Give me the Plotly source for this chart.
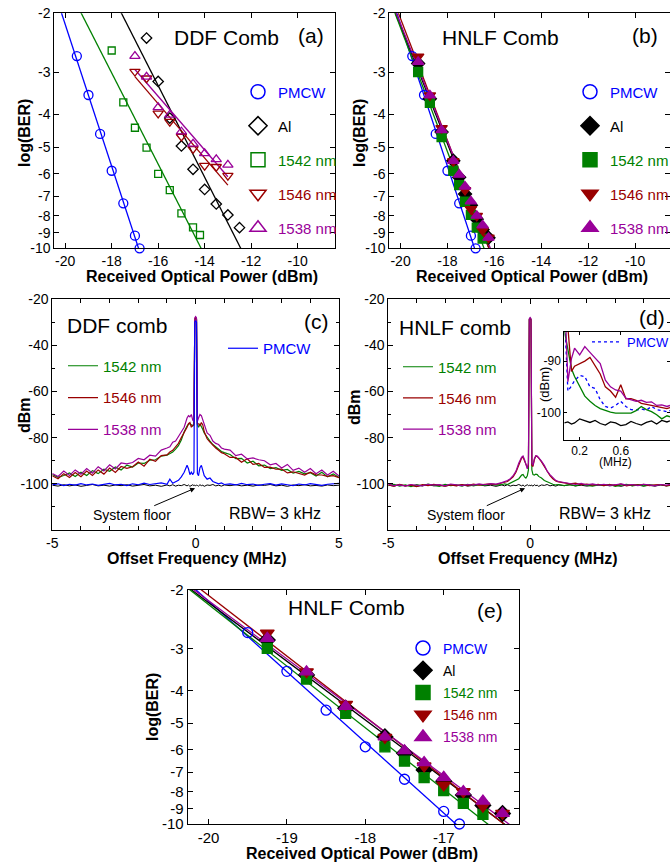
import numpy as np
import plotly.graph_objects as go

W, H = 670, 865
FONT = "Arial, 'Liberation Sans', sans-serif"

BLUE, BLACK, GREEN, RED, PURPLE = "#0000FF", "#000000", "#008000", "#990000", "#990099"

# ---------------- (a) DDF comb : log(BER) vs received power ----------------
a_pmcw_x = [-19.5, -19.0, -18.5, -18.0, -17.5, -17.0, -16.8]
a_pmcw_y = [-2.68, -3.50, -4.57, -5.88, -7.35, -9.17, -10.0]
a_al_x = [-16.5, -16.0, -15.5, -15.0, -14.5, -14.0, -13.5, -13.0, -12.5]
a_al_y = [-2.37, -3.19, -4.10, -4.96, -5.82, -6.68, -7.38, -7.96, -8.68]
a_1542_x = [-18.0, -17.5, -17.0, -16.5, -16.0, -15.5, -15.0, -14.5, -14.2]
a_1542_y = [-2.58, -3.68, -4.38, -5.02, -6.01, -6.71, -7.87, -8.66, -9.13]
a_1546_x = [-17.0, -16.5, -16.0, -15.5, -15.0, -14.5, -14.0, -13.5, -13.0]
a_1546_y = [-2.98, -3.12, -3.97, -4.20, -4.65, -5.06, -5.68, -5.72, -6.08]
a_1538_x = [-17.0, -16.5, -16.0, -15.5, -15.0, -14.5, -14.0, -13.5, -13.0]
a_1538_y = [-2.68, -3.09, -3.81, -4.01, -4.50, -4.89, -5.22, -5.44, -5.65]

# ---------------- (b)/(e) HNLF comb ----------------
h_pmcw_x = [-19.5, -19.0, -18.5, -18.0, -17.5, -17.0, -16.8]
h_pmcw_y = [-2.68, -3.50, -4.57, -5.88, -7.35, -9.17, -10.0]
h_al_x = [-19.25, -18.75, -18.25, -17.75, -17.5, -17.25, -17.0, -16.75, -16.5, -16.25]
h_al_y = [-2.82, -3.59, -4.51, -5.49, -6.15, -6.90, -7.45, -8.19, -8.80, -9.30]
h_1542_x = [-19.25, -18.75, -18.25, -17.75, -17.5, -17.25, -17.0, -16.75, -16.5]
h_1542_y = [-2.99, -3.69, -4.67, -5.88, -6.49, -7.27, -7.95, -8.68, -9.36]
h_1546_x = [-19.25, -18.75, -18.25, -17.75, -17.25, -17.0, -16.75, -16.5, -16.25]
h_1546_y = [-2.69, -3.51, -4.39, -5.51, -6.71, -7.65, -8.01, -8.84, -9.30]
h_1538_x = [-19.25, -18.75, -18.25, -17.75, -17.5, -17.25, -17.0, -16.75, -16.5, -16.25]
h_1538_y = [-2.79, -3.51, -4.45, -5.49, -6.04, -6.55, -7.25, -8.00, -8.54, -9.30]

ber_ticks = [-2, -3, -4, -5, -6, -7, -8, -9, -10]
ab_xticks = [-20, -18, -16, -14, -12, -10, -8]
e_xticks = [-20, -19, -18, -17, -16]

# ---------------- (c)/(d) RF spectra ----------------
spec_x = [-5.0, -4.8, -4.6, -4.4, -4.2, -4.0, -3.8, -3.6, -3.4, -3.2, -3.0, -2.8, -2.6, -2.4, -2.2,
          -2.0, -1.8, -1.6, -1.4, -1.2,
          -1.0, -0.9, -0.8, -0.7, -0.6, -0.5, -0.4, -0.3, -0.25, -0.2, -0.15, -0.1, -0.06, -0.03,
          0.0, 0.03, 0.06, 0.1, 0.15, 0.2, 0.25, 0.3, 0.4, 0.5, 0.6, 0.7, 0.8, 0.9, 1.0,
          1.2, 1.4, 1.6, 1.8, 2.0, 2.2, 2.4, 2.6, 2.8, 3.0, 3.2, 3.4, 3.6, 3.8, 4.0, 4.2, 4.4, 4.6, 4.8, 5.0]

c_1542 = [-96.0, -97.2, -96.4, -95.3, -96.8, -95.0, -96.4, -94.3, -95.6, -93.7, -94.6, -92.7, -94.0, -91.9, -92.8,
          -91.0, -91.2, -89.8, -89.6, -88.0,
          -87.6, -87.0, -86.2, -85.0, -83.5, -81.0, -77.5, -75.0, -74.2, -74.0, -74.5, -75.0, -74.5, -29.0,
          -28.4, -29.0, -74.5, -75.5, -74.0, -75.0, -76.5, -78.0, -80.0, -81.5, -83.0, -84.0, -85.0, -86.0, -86.5,
          -87.3, -89.1, -89.0, -91.0, -90.2, -92.2, -91.9, -93.4, -93.0, -94.2, -93.8, -95.4, -94.6, -95.7, -95.2,
          -96.6, -95.0, -97.0, -95.7, -97.3]
c_1546 = [-96.5, -97.8, -95.6, -97.3, -95.1, -96.9, -94.5, -96.4, -94.0, -95.8, -93.2, -95.1, -92.5, -93.3, -92.6,
          -90.6, -92.4, -89.4, -90.3, -87.8,
          -87.5, -86.2, -85.5, -84.0, -82.5, -80.0, -78.0, -75.5, -74.0, -73.5, -75.5, -74.5, -74.0, -28.6,
          -28.0, -28.6, -74.0, -74.0, -75.0, -73.5, -74.5, -77.5, -80.5, -82.0, -83.5, -84.5, -85.5, -86.5, -87.0,
          -88.6, -88.6, -90.7, -89.2, -91.6, -91.2, -92.9, -92.8, -93.7, -93.6, -95.3, -94.8, -95.5, -96.2, -95.0,
          -96.1, -96.2, -96.8, -96.5, -97.3]
c_1538 = [-95.5, -96.8, -94.5, -96.4, -94.0, -95.8, -93.4, -95.4, -92.6, -94.4, -91.8, -93.6, -91.0, -91.4, -90.8,
          -89.0, -89.6, -87.6, -88.0, -85.4,
          -84.5, -84.0, -82.0, -81.5, -79.5, -77.5, -75.5, -71.5, -70.5, -71.0, -70.0, -72.5, -73.0, -28.2,
          -27.6, -28.2, -73.0, -71.5, -70.0, -70.5, -72.5, -75.0, -78.0, -79.0, -81.5, -82.5, -83.0, -84.5, -85.0,
          -85.4, -87.8, -87.2, -89.2, -88.8, -89.6, -90.0, -91.8, -91.2, -93.2, -91.6, -94.2, -93.2, -95.0, -93.4,
          -95.6, -94.0, -96.2, -94.6, -96.6]
c_pmcw = [-100.4, -100.0, -100.8, -100.2, -100.6, -99.9, -100.5, -100.1, -100.7, -100.3, -99.8, -100.5, -100.2, -100.8, -100.0,
          -100.4, -99.7, -100.3, -99.9, -99.6,
          -100.2, -98.0, -99.8, -99.2, -98.5, -97.0, -95.0, -92.0, -93.5, -96.0, -95.0, -96.0, -95.0, -30.0,
          -29.5, -30.0, -95.5, -96.5, -93.0, -92.0, -94.0, -96.5, -98.0, -97.5, -99.0, -99.5, -100.0, -99.6, -100.3,
          -100.0, -100.5, -99.8, -100.4, -100.1, -100.7, -100.2, -99.9, -100.6, -100.0, -100.4, -100.8, -100.1, -100.5, -99.9,
          -100.3, -100.7, -100.2, -100.0, -99.8]
floor_dbm = [-100.6, -101.0, -100.4, -100.9, -100.5, -101.1, -100.7, -100.3, -100.9, -100.6, -101.0, -100.5, -100.8, -100.4, -101.0,
             -100.7, -100.3, -100.9, -100.6, -101.1,
             -100.5, -100.9, -100.4, -101.0, -100.6, -100.8, -100.3, -100.9, -100.5, -101.1, -100.6, -100.4, -100.8, -100.6,
             -100.9, -100.5, -100.7, -101.0, -100.4, -100.8, -100.6, -101.1, -100.5, -100.7, -100.3, -100.9, -100.6, -101.0, -100.5,
             -100.8, -100.4, -100.9, -100.6, -101.0, -100.5, -100.7, -100.3, -100.9, -100.6, -101.1, -100.5, -100.8, -100.4, -100.9,
             -100.7, -101.0, -100.5, -100.8, -100.6]

d_1542 = [-100.8, -100.2, -101.0, -100.5, -101.2, -100.4, -100.9, -100.1, -100.7, -101.1, -100.3, -100.8, -100.5, -101.0, -100.2,
          -100.9, -100.4, -100.7, -100.2, -100.6,
          -100.4, -100.0, -100.3, -99.6, -99.2, -98.5, -97.8, -96.2, -96.0, -97.0, -97.5, -96.5, -94.0, -29.0,
          -28.5, -29.0, -94.0, -96.0, -96.2, -95.8, -96.0, -96.8, -97.5, -98.6, -99.2, -99.8, -100.2, -100.5, -100.3,
          -100.8, -100.4, -100.9, -100.2, -100.7, -101.0, -100.5, -100.8, -100.3, -101.1, -100.6, -100.2, -100.9, -100.5, -101.0,
          -100.4, -100.8, -100.3, -100.9, -100.6]
d_1546 = [-100.5, -101.0, -100.3, -100.9, -100.6, -101.2, -100.4, -100.8, -100.2, -100.7, -101.0, -100.5, -100.9, -100.3, -100.8,
          -100.1, -100.6, -100.2, -100.0, -100.3,
          -99.8, -99.4, -99.0, -98.0, -97.0, -95.0, -91.5, -88.8, -88.5, -90.0, -92.0, -93.0, -92.0, -28.8,
          -28.3, -28.8, -92.0, -92.5, -89.5, -88.0, -88.2, -88.8, -90.5, -92.5, -95.0, -96.5, -97.8, -98.8, -99.2,
          -99.6, -100.0, -99.7, -100.4, -100.1, -100.6, -100.2, -100.8, -100.3, -100.7, -100.1, -100.9, -100.4, -100.6, -100.2,
          -100.8, -100.5, -100.3, -100.9, -100.4]
d_1538 = [-100.2, -100.8, -100.5, -101.0, -100.3, -100.7, -100.9, -100.2, -100.6, -100.4, -100.9, -100.1, -100.5, -100.8, -100.3,
          -100.6, -100.0, -100.4, -99.9, -100.1,
          -99.5, -99.2, -98.6, -97.8, -96.5, -94.5, -91.0, -88.5, -88.0, -89.5, -91.5, -93.5, -91.0, -28.5,
          -28.0, -28.5, -91.0, -92.0, -89.0, -87.8, -88.0, -88.6, -90.2, -92.0, -94.5, -96.0, -97.5, -98.5, -99.0,
          -99.4, -99.9, -100.3, -99.8, -100.5, -100.0, -100.6, -100.2, -100.7, -100.4, -100.0, -100.6, -100.3, -100.8, -100.2,
          -100.5, -100.9, -100.3, -100.6, -100.1]

spec_xticks = [-5, 0, 5]
spec_yticks = [-100, -80, -60, -40, -20]

# ---------------- (d) inset: close-in spectrum ----------------
ins_x = [0.05, 0.085, 0.12, 0.15, 0.2, 0.25, 0.3, 0.35, 0.4, 0.45, 0.5, 0.55, 0.6, 0.65, 0.7, 0.75,
         0.8, 0.85, 0.9, 0.95, 1.0, 1.05, 1.08]
ins_1538 = [-75.0, -94.0, -89.5, -87.5, -88.8, -87.2, -88.3, -89.3, -90.5, -93.7, -95.0, -95.6, -95.8, -97.2, -97.5, -97.8,
            -97.6, -98.0, -97.9, -98.6, -98.5, -98.8, -98.6]
ins_1546 = [-75.0, -84.0, -92.0, -91.0, -90.5, -90.0, -89.3, -90.8, -92.5, -95.0, -95.8, -97.0, -94.6, -97.3, -97.3, -97.6,
            -98.2, -98.4, -98.6, -98.8, -99.0, -99.2, -99.0]
ins_1542 = [-84.0, -88.0, -91.5, -93.0, -95.0, -96.8, -97.8, -98.6, -99.2, -99.6, -99.9, -100.1, -100.1, -100.2, -100.1, -99.6,
            -98.8, -99.4, -99.8, -100.4, -101.2, -100.6, -100.8]
ins_pmcw = [-80.0, -95.8, -94.8, -93.8, -92.8, -93.0, -95.0, -95.3, -97.5, -98.8, -99.1, -98.6, -97.8, -98.8, -99.4, -99.5,
            -99.3, -99.5, -98.8, -99.4, -99.6, -99.8, -99.6]
ins_floor = [-102.0, -101.8, -102.2, -102.0, -101.2, -101.6, -101.9, -101.5, -102.1, -102.4, -101.8, -102.0, -102.5, -102.3,
             -101.7, -102.1, -102.4, -101.9, -101.6, -102.2, -101.5, -101.8, -101.6]
ins_xticks = [0.2, 0.6]
ins_yticks = [-100, -90]


# ---------------- helpers ----------------
def neg(vals):
    return [-v for v in vals]


def fit(xs, ys, xa, xb):
    p = np.polyfit(xs, np.log10(-np.asarray(ys)), 1)
    xx = np.array([xa, xb])
    return xx, 10 ** np.polyval(p, xx)


def px(x):
    return x / W


def py(y):
    return 1 - y / H


def span(text, color):
    return f"<span style='color:{color}'>{text}</span>"


fig = go.Figure()


def ber_panel(ax, series, lines, legend, lsize):
    xa, ya = ("x" if ax == 1 else f"x{ax}"), ("y" if ax == 1 else f"y{ax}")
    for (xs, ys, color, xr) in lines:
        lx, ly = fit(xs, ys, xr[0], xr[1])
        fig.add_trace(go.Scatter(x=lx, y=ly, mode="lines", line=dict(color=color, width=1.3),
                                 xaxis=xa, yaxis=ya, showlegend=False, hoverinfo="skip"))
    for (xs, ys, color, sym, name, sz) in series:
        fig.add_trace(go.Scatter(x=xs, y=neg(ys), mode="markers", cliponaxis=False,
                                 marker=dict(symbol=sym, size=sz, color=color, line=dict(color=color, width=1.3)),
                                 xaxis=xa, yaxis=ya, showlegend=False))
    for (xs, ys, color, sym, name, sz) in series:
        fig.add_trace(go.Scatter(x=[None], y=[None], mode="markers", name=span(name, color),
                                 marker=dict(symbol=sym, size=lsize, color=color, line=dict(color=color, width=1.5)),
                                 xaxis=xa, yaxis=ya, legend=legend, legendgroup=f"{legend}{name}"))


ber_panel(1,
          [(a_pmcw_x, a_pmcw_y, BLUE, "circle-open", "PMCW", 9),
           (a_al_x, a_al_y, BLACK, "diamond-open", "Al", 8),
           (a_1542_x, a_1542_y, GREEN, "square-open", "1542 nm", 7),
           (a_1546_x, a_1546_y, RED, "triangle-down-open", "1546 nm", 9),
           (a_1538_x, a_1538_y, PURPLE, "triangle-up-open", "1538 nm", 9)],
          [(a_pmcw_x, a_pmcw_y, BLUE, (-22, -15)),
           (a_al_x, a_al_y, BLACK, (-20, -10)),
           (a_1542_x, a_1542_y, GREEN, (-21, -12)),
           (a_1546_x, a_1546_y, RED, (-17, -13)),
           (a_1538_x, a_1538_y, PURPLE, (-17, -13))],
          "legend", 14)

ber_panel(2,
          [(h_pmcw_x, h_pmcw_y, BLUE, "circle-open", "PMCW", 9),
           (h_al_x, h_al_y, BLACK, "diamond", "Al", 10),
           (h_1542_x, h_1542_y, GREEN, "square", "1542 nm", 9),
           (h_1546_x, h_1546_y, RED, "triangle-down", "1546 nm", 10),
           (h_1538_x, h_1538_y, PURPLE, "triangle-up", "1538 nm", 10)],
          [(h_pmcw_x, h_pmcw_y, BLUE, (-22, -15)),
           (h_al_x, h_al_y, BLACK, (-22, -15)),
           (h_1542_x, h_1542_y, GREEN, (-22, -15)),
           (h_1546_x, h_1546_y, RED, (-22, -15)),
           (h_1538_x, h_1538_y, PURPLE, (-22, -15))],
          "legend2", 14)

ber_panel(6,
          [(h_pmcw_x, h_pmcw_y, BLUE, "circle-open", "PMCW", 10),
           (h_al_x, h_al_y, BLACK, "diamond", "Al", 12),
           (h_1542_x, h_1542_y, GREEN, "square", "1542 nm", 10),
           (h_1546_x, h_1546_y, RED, "triangle-down", "1546 nm", 12),
           (h_1538_x, h_1538_y, PURPLE, "triangle-up", "1538 nm", 12)],
          [(h_pmcw_x, h_pmcw_y, BLUE, (-22, -15)),
           (h_al_x, h_al_y, BLACK, (-22, -15)),
           (h_1542_x, h_1542_y, GREEN, (-22, -15)),
           (h_1546_x, h_1546_y, RED, (-22, -15)),
           (h_1538_x, h_1538_y, PURPLE, (-22, -15))],
          "legend7", 14)

# ---------------- spectra (c) ----------------
fig.add_trace(go.Scatter(x=spec_x, y=floor_dbm, mode="lines", line=dict(color=BLACK, width=1),
                         xaxis="x3", yaxis="y3", showlegend=False))
for ys, color, name in [(c_1542, GREEN, "1542 nm"), (c_1546, RED, "1546 nm"), (c_1538, PURPLE, "1538 nm")]:
    fig.add_trace(go.Scatter(x=spec_x, y=ys, mode="lines", line=dict(color=color, width=1.2),
                             name=span(name, color), xaxis="x3", yaxis="y3",
                             legend="legend3", legendgroup="c" + name))
fig.add_trace(go.Scatter(x=spec_x, y=c_pmcw, mode="lines", line=dict(color=BLUE, width=1.2),
                         name=span("PMCW", BLUE), xaxis="x3", yaxis="y3", legend="legend4"))

# ---------------- spectra (d) ----------------
fig.add_trace(go.Scatter(x=spec_x, y=floor_dbm, mode="lines", line=dict(color=BLACK, width=1),
                         xaxis="x4", yaxis="y4", showlegend=False))
for ys, color, name in [(d_1542, GREEN, "1542 nm"), (d_1546, RED, "1546 nm"), (d_1538, PURPLE, "1538 nm")]:
    fig.add_trace(go.Scatter(x=spec_x, y=ys, mode="lines", line=dict(color=color, width=1.2),
                             name=span(name, color), xaxis="x4", yaxis="y4",
                             legend="legend5", legendgroup="d" + name))

# ---------------- inset ----------------
fig.add_trace(go.Scatter(x=ins_x, y=ins_floor, mode="lines", line=dict(color=BLACK, width=1.3),
                         xaxis="x5", yaxis="y5", showlegend=False))
fig.add_trace(go.Scatter(x=ins_x, y=ins_pmcw, mode="lines", line=dict(color=BLUE, width=1.3, dash="dot"),
                         name=span("PMCW", BLUE), xaxis="x5", yaxis="y5", legend="legend6"))
for ys, color in [(ins_1542, GREEN), (ins_1546, RED), (ins_1538, PURPLE)]:
    fig.add_trace(go.Scatter(x=ins_x, y=ys, mode="lines", line=dict(color=color, width=1.3),
                             xaxis="x5", yaxis="y5", showlegend=False))

# ---------------- axes ----------------
base = dict(showline=True, linecolor="black", linewidth=1, mirror="ticks", showgrid=False, zeroline=False,
            ticks="inside", ticklen=5, tickcolor="black", tickfont=dict(family=FONT, size=14, color="black"),
            automargin=False)


def ax(**kw):
    d = dict(base)
    d.update(kw)
    return d


ber_y = dict(type="log", range=[1, np.log10(2)], tickvals=neg(ber_ticks),
             ticktext=[str(t) for t in ber_ticks])

fig.update_layout(
    xaxis=ax(domain=[px(54.3), px(335)], range=[-20.47, -8.39], anchor="y",
             tickvals=ab_xticks, ticktext=[str(t) for t in ab_xticks]),
    yaxis=ax(domain=[py(248.3), py(13.3)], anchor="x", **ber_y),
    xaxis2=ax(domain=[px(389.3), 1.0], range=[-20.48, -8.51], anchor="y2",
              tickvals=ab_xticks, ticktext=[str(t) for t in ab_xticks]),
    yaxis2=ax(domain=[py(248.3), py(13.3)], anchor="x2", **ber_y),
    xaxis3=ax(domain=[px(52.3), px(339)], range=[-5, 5], anchor="y3",
              tickvals=spec_xticks, ticktext=[str(t) for t in spec_xticks],
              minor=dict(dtick=1, ticks="inside", ticklen=4, tickcolor="black")),
    yaxis3=ax(domain=[py(530), py(299)], range=[-120, -20], anchor="x3",
              tickvals=spec_yticks, ticktext=[str(t) for t in spec_yticks],
              minor=dict(dtick=10, ticks="inside", ticklen=3, tickcolor="black")),
    xaxis4=ax(domain=[px(388.3), 1.0], range=[-5, 4.93], anchor="y4",
              tickvals=spec_xticks, ticktext=[str(t) for t in spec_xticks],
              minor=dict(dtick=1, ticks="inside", ticklen=4, tickcolor="black")),
    yaxis4=ax(domain=[py(530), py(299)], range=[-120, -20], anchor="x4",
              tickvals=spec_yticks, ticktext=[str(t) for t in spec_yticks],
              minor=dict(dtick=10, ticks="inside", ticklen=3, tickcolor="black")),
    xaxis5=ax(domain=[px(564.3), 1.0], range=[0.05, 1.08], anchor="y5", ticklen=3,
              tickvals=ins_xticks, ticktext=[str(t) for t in ins_xticks],
              tickfont=dict(family=FONT, size=12, color="black")),
    yaxis5=ax(domain=[py(440), py(331.7)], range=[-105.3, -84.3], anchor="x5", ticklen=3,
              tickvals=ins_yticks, ticktext=[str(t) for t in ins_yticks],
              tickfont=dict(family=FONT, size=12, color="black")),
    xaxis6=ax(domain=[px(187.7), px(519)], range=[-20.265, -16.04], anchor="y6",
              tickvals=e_xticks, ticktext=[str(t) for t in e_xticks],
              tickfont=dict(family=FONT, size=15, color="black")),
    yaxis6=ax(domain=[py(824), py(590)], anchor="x6", tickfont=dict(family=FONT, size=15, color="black"),
              **ber_y),
)


def leg(x, y, size, gap):
    return dict(x=px(x), y=py(y), xref="container", yref="container", xanchor="left", yanchor="top",
                bgcolor="rgba(0,0,0,0)", borderwidth=0, font=dict(family=FONT, size=size, color="black"),
                tracegroupgap=gap, traceorder="grouped", itemclick=False, itemdoubleclick=False)


fig.update_layout(
    legend=leg(238, 75.5, 15, 11.5),
    legend2=leg(570, 75.5, 15, 11.5),
    legend3=leg(63, 349.5, 15, 9.3),
    legend4=leg(223, 332, 15, 0),
    legend5=leg(398, 350.5, 15, 8.7),
    legend6=leg(587, 327, 13, 0),
    legend7=leg(403, 632.5, 14, 1),
)

# ---------------- text annotations ----------------
ann = []


def text(t, x, y, size, bold=False, angle=0, xanchor="center", color="black"):
    ann.append(dict(text=f"<b>{t}</b>" if bold else t, x=px(x), y=py(y), xref="paper", yref="paper",
                    showarrow=False, xanchor=xanchor, yanchor="middle", textangle=angle,
                    font=dict(family=FONT, size=size, color=color)))


text("DDF Comb", 226, 38, 21)
text("(a)", 311, 35, 21)
text("HNLF Comb", 500, 38, 21)
text("(b)", 645, 35, 21)
text("DDF comb", 65, 325, 21, xanchor="left")
text("(c)", 316, 321, 21)
text("HNLF comb", 397, 327, 21, xanchor="left")
text("(d)", 652, 317, 21)
text("HNLF Comb", 346, 607, 21)
text("(e)", 490, 610, 21)

text("Received Optical Power (dBm)", 202, 276, 16, bold=True)
text("Received Optical Power (dBm)", 532, 276, 16, bold=True)
text("Offset Frequency (MHz)", 197, 558, 16, bold=True)
text("Offset Frequency (MHz)", 528, 558, 16, bold=True)
text("Received Optical Power (dBm)", 362, 853, 16, bold=True)
text("log(BER)", 25, 133, 16, bold=True, angle=-90)
text("log(BER)", 360, 133, 16, bold=True, angle=-90)
text("dBm", 25, 415, 16, bold=True, angle=-90)
text("dBm", 355, 407, 16, bold=True, angle=-90)
text("log(BER)", 152, 707, 16, bold=True, angle=-90)
text("(dBm)", 544, 385, 13, angle=-90)
text("(MHz)", 615, 462, 12)
text("RBW= 3 kHz", 275, 513, 16)
text("RBW= 3 kHz", 605, 513, 16)

for xr, yr, axn in [("x3", "y3", 0), ("x4", "y4", 1)]:
    ann.append(dict(text="System floor", x=[-0.02, -0.18][axn], y=-101.9, xref=xr, yref=yr,
                    showarrow=True, arrowhead=2, arrowsize=1, arrowwidth=1, arrowcolor="black",
                    ax=[-63, -59][axn], ay=27, font=dict(family=FONT, size=14, color="black")))

fig.update_layout(annotations=ann)

fig.update_layout(width=W, height=H, autosize=False, margin=dict(l=0, r=0, t=0, b=0, autoexpand=False),
                  paper_bgcolor="white", plot_bgcolor="white",
                  font=dict(family=FONT, color="black"), hovermode=False)

fig.write_html("out.html", config={"displayModeBar": False},
               post_script="document.body.style.margin='0px';document.body.style.padding='0px';"
                           "document.body.style.overflow='hidden';")
